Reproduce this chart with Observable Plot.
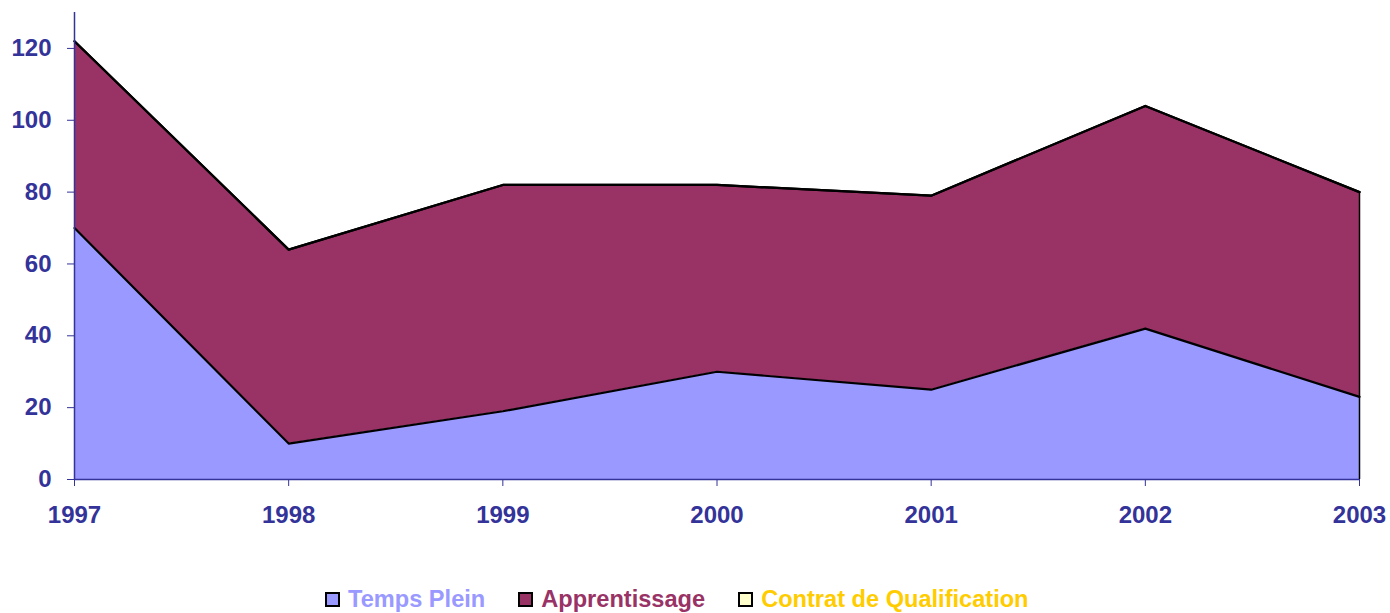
<!DOCTYPE html>
<html>
<head>
<meta charset="utf-8">
<script src="https://cdn.jsdelivr.net/npm/d3@7"></script>
<script src="https://cdn.jsdelivr.net/npm/@observablehq/plot@0.6"></script>
<style>
  html, body { margin: 0; padding: 0; background: #fff; }
  #wrap { position: relative; width: 1390px; height: 613px; font-family: "Liberation Sans", Arial, sans-serif; }
  #legend { position: absolute; left: 325px; top: 586px; display: flex; align-items: center; font-weight: bold; font-size: 23.6px; }
  .item { display: flex; align-items: center; margin-right: 33px; }
  .sw { width: 11px; height: 11px; border: 2px solid #000; margin-right: 8px; }
</style>
</head>
<body>
<div id="wrap"><div id="chart"></div><div id="legend"></div></div>
<script>
const years = [1997, 1998, 1999, 2000, 2001, 2002, 2003];
const series = ["Temps Plein", "Apprentissage", "Contrat de Qualification"];
const tempsPlein = [70, 10, 19, 30, 25, 42, 23];
const apprentissage = [52, 54, 63, 52, 54, 62, 57];
const contrat = [0, 0, 0, 0, 0, 0, 0];
const yTicks = [0, 20, 40, 60, 80, 100, 120];
const fills = ["#9999FF", "#993366", "#FFFFCC"];
const textColors = ["#9999FF", "#993366", "#FFCC00"];

const values = [tempsPlein, apprentissage, contrat];
const data = [];
series.forEach((s, i) => years.forEach((yr, j) => data.push({year: yr, series: s, value: values[i][j]})));

const axisColor = "#333399";
const chart = Plot.plot({
  width: 1390,
  height: 568,
  marginLeft: 74,
  marginRight: 31,
  marginTop: 12,
  marginBottom: 89,
  style: {fontFamily: "Liberation Sans, Arial, sans-serif", fontSize: "24px", fontWeight: "bold", color: axisColor},
  x: {domain: [1997, 2003], ticks: years, tickFormat: "d", label: null},
  y: {domain: [0, 130], ticks: yTicks, label: null},
  color: {domain: series, range: fills},
  marks: [
    Plot.areaY(data, {x: "year", y: "value", z: "series", fill: "series", order: series, fillOpacity: 1}),
    Plot.lineY(data, Plot.stackY2({x: "year", y: "value", z: "series", order: series, stroke: "#000", strokeWidth: 2.2})),
    Plot.ruleX([2003], {y1: 0, y2: 80, stroke: "#000", strokeWidth: 1.5}),
    Plot.ruleX([1997], {stroke: axisColor, strokeWidth: 1.5}),
    Plot.ruleY([0], {stroke: axisColor, strokeWidth: 1.5}),
    Plot.axisX({ticks: years, tickFormat: "d", tickSize: 7, tickPadding: 19, stroke: axisColor, fill: axisColor, label: null}),
    Plot.axisY({ticks: yTicks, tickSize: 7, tickPadding: 16, stroke: axisColor, fill: axisColor, label: null})
  ]
});
document.getElementById("chart").appendChild(chart);

const legend = document.getElementById("legend");
series.forEach((s, i) => {
  const item = document.createElement("div");
  item.className = "item";
  const sw = document.createElement("div");
  sw.className = "sw";
  sw.style.background = fills[i];
  const t = document.createElement("span");
  t.textContent = s;
  t.style.color = textColors[i];
  item.appendChild(sw);
  item.appendChild(t);
  legend.appendChild(item);
});
</script>
</body>
</html>
